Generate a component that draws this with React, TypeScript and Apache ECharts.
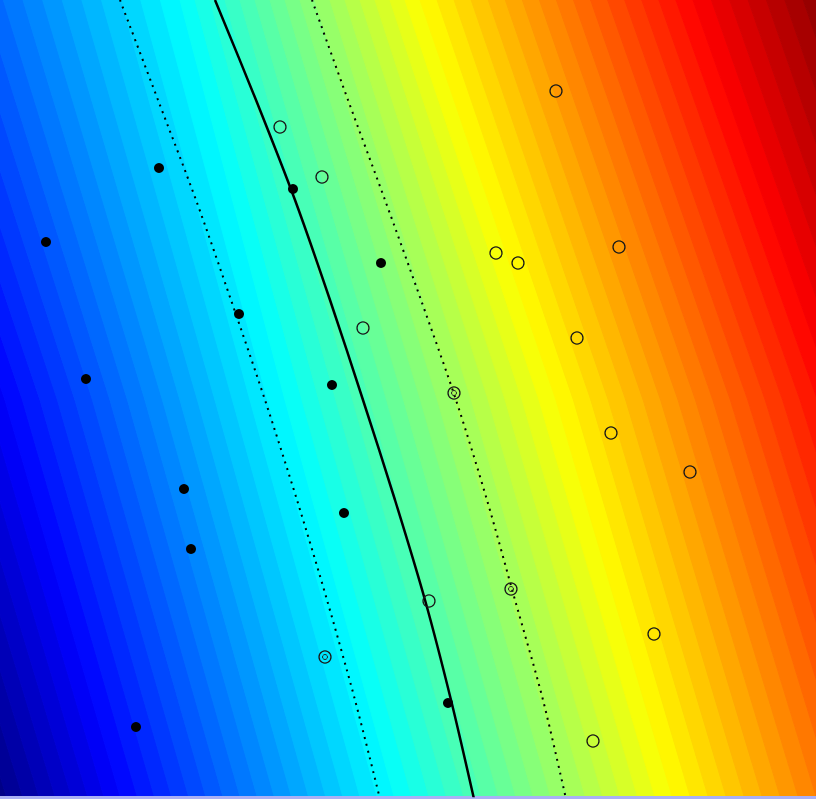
import React, { useEffect, useRef } from "react";
import * as echarts from "echarts";

// Class -1 samples (filled dots)
const negPoints: number[][] = [
  [159, 168], [46, 242], [293, 189], [381, 263], [239, 314], [86, 379],
  [332, 385], [184, 489], [344, 513], [191, 549], [136, 727], [448, 703],
];
// Class +1 samples (open circles)
const posPoints: number[][] = [
  [280, 127], [322, 177], [363, 328], [556, 91], [496, 253], [518, 263],
  [619, 247], [577, 338], [454, 393], [611, 433], [690, 472], [511, 589],
  [429, 601], [654, 634], [593, 741], [325, 657],
];
// Support vectors marked inside the circles
const supportVectors: number[][] = [[454, 393], [511, 589], [325, 657]];

// Decision boundary and margins
const boundaryLine: number[][] = [
  [215, 0], [256, 100], [295, 200], [330, 300], [363, 400], [395, 500],
  [425, 600], [451, 700], [474, 799],
];
const marginNeg: number[][] = [
  [120, 0], [158, 100], [196, 200], [231, 300], [265, 400], [297, 500],
  [327, 600], [355, 700], [380, 799],
];
const marginPos: number[][] = [
  [312, 0], [348, 100], [385, 200], [421, 300], [456, 400], [487, 500],
  [515, 600], [543, 700], [566, 799],
];

// Background colour field: x position of the jet key colours on three rows
const bgRowsY = [0, 400, 796];
const bgKeyLevels = [0, 0.125, 0.375, 0.625, 0.875, 1];
const bgKeyXTop = [-290, -134, 180, 420, 693, 840];
const bgKeyXMid = [-135, 5, 285, 556, 835, 975];
const bgKeyXBottom = [-10, 120, 394, 672, 960, 1100];
const bgBandCount = 64;

function clamp01(v: number) {
  return Math.max(0, Math.min(1, v));
}
function jet(t: number) {
  const r = clamp01(1.5 - Math.abs(4 * t - 3));
  const g = clamp01(1.5 - Math.abs(4 * t - 2));
  const b = clamp01(1.5 - Math.abs(4 * t - 1));
  return `rgb(${Math.round(r * 255)},${Math.round(g * 255)},${Math.round(b * 255)})`;
}
function levelX(keys: number[], t: number) {
  for (let i = 0; i < bgKeyLevels.length - 1; i++) {
    const a = bgKeyLevels[i], b = bgKeyLevels[i + 1];
    if (t <= b || i === bgKeyLevels.length - 2) {
      const f = (t - a) / (b - a);
      return keys[i] + f * (keys[i + 1] - keys[i]);
    }
  }
  return keys[keys.length - 1];
}

export default function App() {
  const ref = useRef<HTMLDivElement>(null);
  useEffect(() => {
    if (!ref.current) return;
    const chart = echarts.init(ref.current, null, { renderer: "svg" });
    const rowKeys = [bgKeyXTop, bgKeyXMid, bgKeyXBottom];
    const bands = Array.from({ length: bgBandCount }, (_, k) => [k]);
    chart.setOption({
      animation: false,
      backgroundColor: "#a9b0f5",
      grid: { left: 0, right: 0, top: 0, bottom: 3 },
      xAxis: { type: "value", min: 0, max: 816, show: false },
      yAxis: { type: "value", min: 0, max: 796, inverse: true, show: false },
      series: [
        {
          type: "custom",
          clip: true,
          silent: true,
          data: bands,
          encode: { x: 0 },
          renderItem: (params: any, api: any) => {
            const k = api.value(0);
            const t0 = k / bgBandCount;
            const t1 = (k + 1) / bgBandCount;
            const left = bgRowsY.map((y, i) =>
              api.coord([k === 0 ? -3000 : levelX(rowKeys[i], t0), y])
            );
            const right = bgRowsY.map((y, i) =>
              api.coord([k === bgBandCount - 1 ? 4000 : levelX(rowKeys[i], t1), y])
            );
            const pts = [...left, ...right.reverse()];
            const c = jet((k + 0.5) / bgBandCount);
            return {
              type: "polygon",
              shape: { points: pts },
              style: { fill: c, stroke: c, lineWidth: 1 },
            };
          },
          z: 1,
        },
        {
          type: "line",
          data: marginNeg,
          showSymbol: false,
          smooth: 0.3,
          lineStyle: { color: "#000", width: 2, type: [2, 5] },
          z: 2,
        },
        {
          type: "line",
          data: marginPos,
          showSymbol: false,
          smooth: 0.3,
          lineStyle: { color: "#000", width: 2, type: [2, 5] },
          z: 2,
        },
        {
          type: "line",
          data: boundaryLine,
          showSymbol: false,
          smooth: 0.3,
          lineStyle: { color: "#000", width: 2.5 },
          z: 3,
        },
        {
          type: "scatter",
          data: negPoints,
          symbol: "circle",
          symbolSize: 10,
          itemStyle: { color: "#000", opacity: 1 },
          z: 4,
        },
        {
          type: "scatter",
          data: posPoints,
          symbol: "circle",
          symbolSize: 12,
          itemStyle: { color: "rgba(0,0,0,0)", borderColor: "#1a1a1a", borderWidth: 1.3, opacity: 1 },
          z: 4,
        },
        {
          type: "scatter",
          data: supportVectors,
          symbol: "circle",
          symbolSize: 5,
          itemStyle: { color: "rgba(0,0,0,0)", borderColor: "#222", borderWidth: 1, opacity: 1 },
          z: 5,
        },
      ],
    });
    return () => chart.dispose();
  }, []);
  return (
    <div
      ref={ref}
      style={{ position: "fixed", left: 0, top: 0, width: 816, height: 799 }}
    />
  );
}
